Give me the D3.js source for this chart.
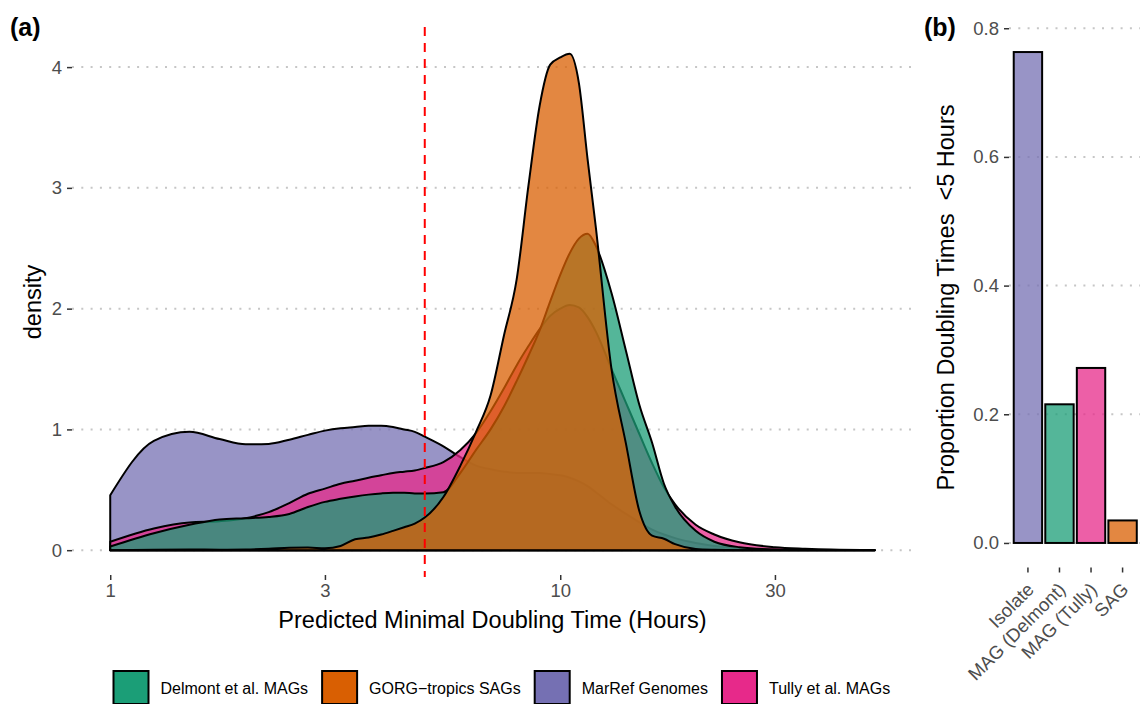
<!DOCTYPE html>
<html>
<head>
<meta charset="utf-8">
<script src="https://cdn.jsdelivr.net/npm/d3@7"></script>
<style>
  body { margin: 0; background: #fff; }
  svg { display: block; }
  text { font-family: "Liberation Sans", Arial, Helvetica, sans-serif; }
</style>
</head>
<body>
<svg id="chart" width="1140" height="704"></svg>
<script>
// ---- Panel (a): density of predicted minimal doubling times (hours, log scale)
const hours = [1, 1.25, 1.5, 1.75, 2, 2.25, 2.5, 2.75, 3, 3.25, 3.5, 3.75, 4, 4.25, 4.5, 4.75, 5,
  5.5, 6, 6.5, 7, 7.5, 8, 8.5, 9, 9.5, 10, 10.5, 11, 11.5, 12, 13, 14, 15, 16, 17, 18, 20, 22, 25, 30, 35, 40, 50];

const densMarRef = [0.455, 0.905, 0.98, 0.92, 0.877, 0.88, 0.915, 0.955, 0.99, 1.01, 1.02, 1.03, 1.03, 1.02, 1.0, 0.98, 0.94,
  0.86, 0.77, 0.70, 0.67, 0.65, 0.64, 0.64, 0.64, 0.63, 0.62, 0.60, 0.57, 0.53, 0.48, 0.38, 0.30, 0.23, 0.17, 0.13, 0.10, 0.06, 0.035, 0.015, 0.005, 0.002, 0.001, 0];

const densTully = [0.07, 0.18, 0.23, 0.24, 0.265, 0.315, 0.39, 0.467, 0.51, 0.55, 0.575, 0.60, 0.62, 0.64, 0.65, 0.66, 0.68,
  0.73, 0.83, 0.97, 1.15, 1.34, 1.53, 1.69, 1.83, 1.94, 2.0, 2.03, 2.01, 1.93, 1.81, 1.5, 1.22, 0.96, 0.72, 0.52, 0.38, 0.21, 0.13, 0.065, 0.025, 0.012, 0.005, 0.001];

const densDelmont = [0.03, 0.14, 0.21, 0.255, 0.265, 0.275, 0.30, 0.357, 0.40, 0.425, 0.445, 0.46, 0.47, 0.475, 0.475, 0.47, 0.47,
  0.48, 0.64, 0.83, 1.0, 1.19, 1.40, 1.61, 1.82, 2.06, 2.28, 2.46, 2.58, 2.62, 2.52, 2.13, 1.65, 1.2, 0.89, 0.55, 0.36, 0.16, 0.07, 0.025, 0.006, 0.002, 0.001, 0];

const densGorg = [0, 0.004, 0.006, 0.004, 0.006, 0.012, 0.02, 0.022, 0.015, 0.035, 0.09, 0.105, 0.13, 0.16, 0.19, 0.22, 0.27,
  0.44, 0.70, 0.98, 1.28, 1.78, 2.24, 3.02, 3.68, 4.02, 4.08, 4.11, 3.87, 3.24, 2.67, 1.5, 0.88, 0.32, 0.12, 0.095, 0.05, 0.01, 0.003, 0, 0, 0, 0, 0];

const cutoffHours = 5;
const densityTicks = [0, 1, 2, 3, 4];
const hourTicks = [1, 3, 10, 30];

// drawing order: first is bottom layer
const densitySeries = [
  { key: "MarRef Genomes", color: "#7570b3", values: densMarRef },
  { key: "Tully et al. MAGs", color: "#e7298a", values: densTully },
  { key: "Delmont et al. MAGs", color: "#1b9e77", values: densDelmont },
  { key: "GORG\u2212tropics SAGs", color: "#d95f02", values: densGorg }
];
const legendLabels = ["Delmont et al. MAGs", "GORG\u2212tropics SAGs", "MarRef Genomes", "Tully et al. MAGs"];
const legendColors = ["#1b9e77", "#d95f02", "#7570b3", "#e7298a"];

// ---- Panel (b): proportion of doubling times below the cutoff
const groups = ["Isolate", "MAG (Delmont)", "MAG (Tully)", "SAG"];
const proportions = [0.763, 0.2155, 0.272, 0.035];
const groupColors = ["#7570b3", "#1b9e77", "#e7298a", "#d95f02"];
const proportionTicks = [0, 0.2, 0.4, 0.6, 0.8];

const svg = d3.select("#chart");
const axisGrey = "#4d4d4d";
const tickFont = 18.5, titleFont = 23.5, legendFont = 16;

function dottedGrid(g, y, x0, x1, ticks) {
  g.selectAll("line.grid").data(ticks).join("line")
    .attr("class", "grid")
    .attr("x1", x0).attr("x2", x1)
    .attr("y1", d => y(d)).attr("y2", d => y(d))
    .attr("stroke", "#c6c6c6").attr("stroke-width", 2)
    .attr("stroke-dasharray", "2,7.3");
}

function styleAxis(g) {
  g.select(".domain").remove();
  g.selectAll(".tick line").attr("stroke", "#333").attr("stroke-width", 1.5);
  g.selectAll(".tick text").attr("fill", axisGrey).attr("font-size", tickFont)
    .attr("font-family", '"Liberation Sans", Arial, sans-serif');
}

// ===== Panel (a)
const A = { left: 72, right: 913, top: 29, bottom: 575 };
const lo = Math.log10(d3.min(hours)), hi = Math.log10(d3.max(hours));
const padX = (hi - lo) * 0.05;
const x = d3.scaleLog().domain([10 ** (lo - padX), 10 ** (hi + padX)]).range([A.left, A.right]);
const yMax = d3.max(densitySeries, s => d3.max(s.values));
const y = d3.scaleLinear().domain([-0.05 * yMax, 1.05 * yMax]).range([A.bottom, A.top]);

const gA = svg.append("g");
dottedGrid(gA, y, A.left, A.right, densityTicks);

const area = d3.area()
  .x((d, i) => x(hours[i]))
  .y0(y(0))
  .y1(d => y(d))
  .curve(d3.curveMonotoneX);

gA.selectAll("path.density").data(densitySeries).join("path")
  .attr("class", "density")
  .attr("d", s => area(s.values))
  .attr("fill", s => s.color)
  .attr("fill-opacity", 0.75)
  .attr("stroke", "#000")
  .attr("stroke-width", 2)
  .attr("stroke-linejoin", "round");

gA.append("line")
  .attr("x1", x(cutoffHours)).attr("x2", x(cutoffHours))
  .attr("y1", A.top - 2).attr("y2", A.bottom + 2)
  .attr("stroke", "#ff0000").attr("stroke-width", 2)
  .attr("stroke-dasharray", "9,7");

gA.append("g").attr("transform", `translate(${A.left},0)`)
  .call(d3.axisLeft(y).tickValues(densityTicks).tickSize(5).tickPadding(5).tickFormat(d3.format("d")))
  .call(styleAxis);

gA.append("g").attr("transform", `translate(0,${A.bottom})`)
  .call(d3.axisBottom(x).tickValues(hourTicks).tickSize(5).tickPadding(4).tickFormat(d3.format("d")))
  .call(styleAxis);

gA.append("text")
  .attr("x", (A.left + A.right) / 2).attr("y", 628)
  .attr("text-anchor", "middle").attr("font-size", titleFont).attr("fill", "#000")
  .text("Predicted Minimal Doubling Time (Hours)");

gA.append("text")
  .attr("transform", `translate(41,${(A.top + A.bottom) / 2}) rotate(-90)`)
  .attr("text-anchor", "middle").attr("font-size", titleFont).attr("fill", "#000")
  .text("density");

svg.append("text").attr("x", 10).attr("y", 36)
  .attr("font-size", 25).attr("font-weight", "bold").text("(a)");

// legend
const leg = svg.append("g");
let lx = 113.5;
legendLabels.forEach((lab, i) => {
  leg.append("rect").attr("x", lx).attr("y", 671).attr("width", 35).attr("height", 33)
    .attr("fill", legendColors[i]).attr("stroke", "#000").attr("stroke-width", 2);
  const t = leg.append("text").attr("x", lx + 35 + 12).attr("y", 688)
    .attr("dominant-baseline", "central").attr("font-size", legendFont).attr("fill", "#000")
    .text(lab);
  lx += 35 + 12 + t.node().getComputedTextLength() + 14;
});

// ===== Panel (b)
const B = { left: 1009, top: 27.5, bottom: 567.5, step: 31.55 };
const xb = d3.scaleBand().domain(groups)
  .range([B.left, B.left + 4.2 * B.step]).paddingInner(0.1).paddingOuter(0.15);
const pMax = d3.max(proportions);
const yb = d3.scaleLinear().domain([-0.05 * pMax, 1.05 * pMax]).range([B.bottom, B.top]);

const gB = svg.append("g");
dottedGrid(gB, yb, B.left, 1140, proportionTicks);

gB.selectAll("rect.bar").data(groups).join("rect")
  .attr("class", "bar")
  .attr("x", d => xb(d)).attr("width", xb.bandwidth())
  .attr("y", (d, i) => yb(proportions[i]))
  .attr("height", (d, i) => yb(0) - yb(proportions[i]))
  .attr("fill", (d, i) => groupColors[i]).attr("fill-opacity", 0.75)
  .attr("stroke", "#000").attr("stroke-width", 2);

gB.append("g").attr("transform", `translate(${B.left},0)`)
  .call(d3.axisLeft(yb).tickValues(proportionTicks).tickSize(5).tickPadding(5).tickFormat(d3.format(".1f")))
  .call(styleAxis);

const xAxisB = gB.append("g").attr("transform", `translate(0,${B.bottom})`)
  .call(d3.axisBottom(xb).tickSize(5).tickPadding(4))
  .call(styleAxis);
xAxisB.selectAll(".tick text")
  .attr("text-anchor", "end")
  .attr("transform", "translate(-2,14) rotate(-45)")
  .attr("dy", "0.7em").attr("y", 0);

gB.append("text")
  .attr("transform", `translate(954,${(B.top + B.bottom) / 2}) rotate(-90)`)
  .attr("text-anchor", "middle").attr("font-size", titleFont).attr("fill", "#000")
  .attr("xml:space", "preserve").style("white-space", "pre")
  .text("Proportion Doubling Times  <5 Hours");

svg.append("text").attr("x", 924).attr("y", 36)
  .attr("font-size", 25).attr("font-weight", "bold").text("(b)");
</script>
</body>
</html>
